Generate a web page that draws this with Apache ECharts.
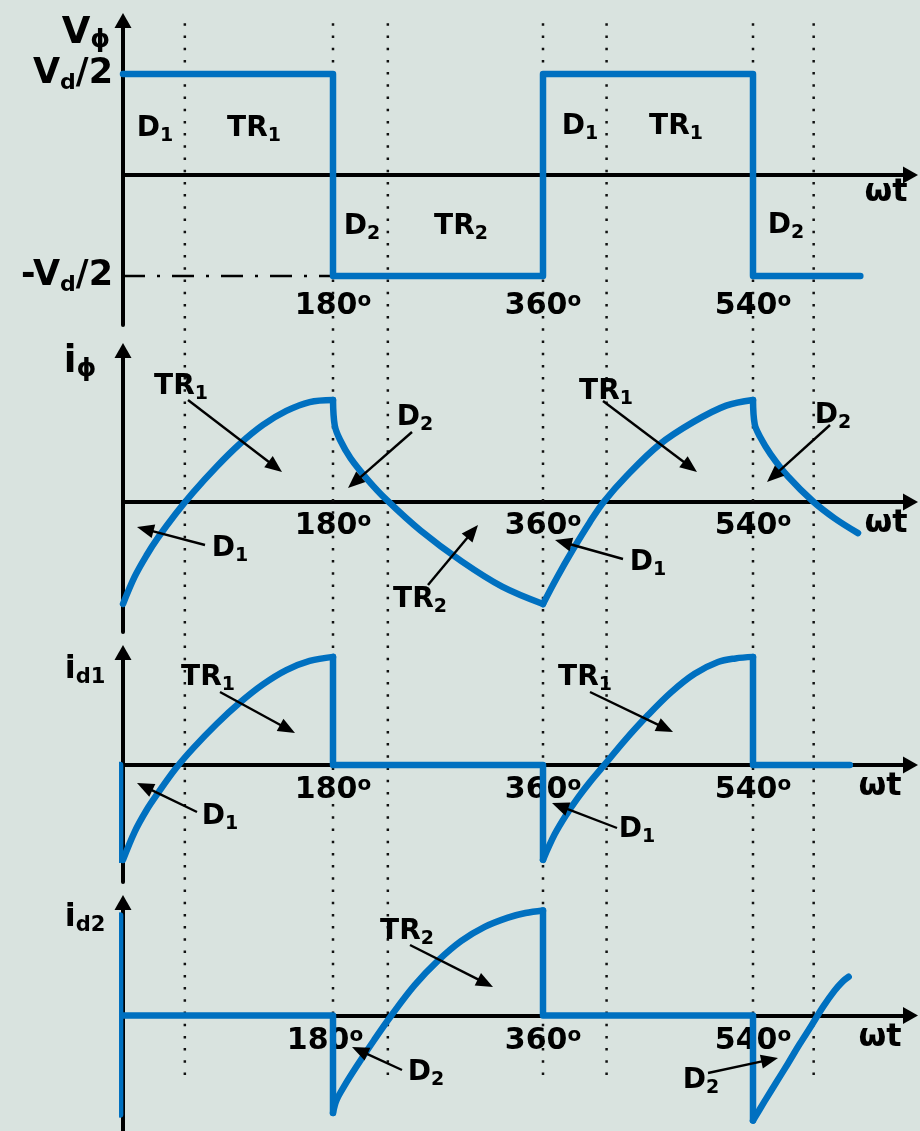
<!DOCTYPE html>
<html>
<head>
<meta charset="utf-8">
<script src="https://cdn.jsdelivr.net/npm/echarts@6/dist/echarts.min.js"></script>
<style>
  html, body { margin: 0; padding: 0; background: #d9e3df; }
  #chart { width: 920px; height: 1131px; }
</style>
</head>
<body>
<div id="chart"></div>
<script>
// ---- angles (degrees of ωt) ----
const tickAngles = [180, 360, 540];
const tickLabels = ['180', '360', '540'];
const dividerAngles = [53, 180, 227, 360, 414.5, 540, 592];

// ---- phase voltage, in units of Vd/2 ----
const vPhase = [[0, 1], [180, 1], [180, -1], [360, -1], [360, 1], [540, 1], [540, -1], [632, -1]];
const vNegRef = [[0, -1], [180, -1]];

// ---- phase current ----
const iPhaseRise1 = [[0, -1.0], [10, -0.732], [20, -0.527], [30, -0.35], [45, -0.117], [60, 0.093], [80, 0.344], [100, 0.569], [120, 0.756], [140, 0.893], [160, 0.98], [180, 1.0]];
const iPhaseFall1 = [[180, 1.0], [181.5, 0.75], [186, 0.61], [195, 0.43], [210, 0.215], [226, 0.02], [255, -0.28], [290, -0.58], [325, -0.83], [360, -1.0]];
const iPhaseRise2 = [[360, -1.0], [372, -0.74], [386, -0.46], [400, -0.20], [412, 0], [432, 0.26], [460, 0.565], [489, 0.785], [517, 0.945], [540, 1.0]];
const iPhaseFall2 = [[540, 1.0], [541.5, 0.76], [546, 0.64], [555, 0.47], [570, 0.25], [592, 0], [610, -0.16], [630, -0.305]];

// ---- upper device current ----
const id1Lead = [[-2.5, 0], [-2.5, -0.93]];
const id1Rise1 = [[0, -0.93], [10, -0.655], [20, -0.446], [30, -0.275], [45, -0.037], [60, 0.163], [80, 0.40], [100, 0.61], [120, 0.79], [140, 0.93], [160, 1.02], [180, 1.06]];
const id1Off1 = [[180, 1.06], [180, 0], [360, 0], [360, -0.93]];
const id1Rise2 = [[360, -0.93], [370, -0.68], [380, -0.487], [390, -0.32], [400, -0.17], [415, 0.034], [430, 0.24], [450, 0.49], [470, 0.715], [490, 0.895], [510, 1.01], [525, 1.045], [540, 1.06]];
const id1Off2 = [[540, 1.06], [540, 0], [623, 0]];

// ---- lower device current ----
const id2Lead = [[-2.5, 0.98], [-2.5, -0.97]];
const id2Off1 = [[0, 0], [180, 0], [180, -0.955]];
const id2Rise1 = [[180, -0.955], [183, -0.83], [190, -0.685], [200, -0.503], [215, -0.245], [230, 0.0], [250, 0.297], [270, 0.537], [290, 0.731], [310, 0.869], [330, 0.96], [345, 1.005], [360, 1.03]];
const id2Off2 = [[360, 1.03], [360, 0], [540, 0], [540, -1.03]];
const id2Rise2 = [[540, -1.03], [550, -0.84], [560, -0.655], [570, -0.47], [580, -0.28], [590, -0.10], [600, 0.085], [610, 0.245], [617, 0.335], [622, 0.38]];

// ---- layout ----
const BLUE = '#0070c0';
const FONT = 'DejaVu Sans';
const LEFT = 123;
const X_MAX = 675;
const PX_PER_DEG = 1.16667;
const GRID_W = X_MAX * PX_PER_DEG;
const ARROW = [17, 15];

// labelMargin is measured from the bottom edge of each grid
const panels = [
  { top: 13, bottom: 325, zero: 175, unit: 101, labelMargin: -34 },
  { top: 343, bottom: 632, zero: 502, unit: 102, labelMargin: -121 },
  { top: 645, bottom: 882, zero: 765, unit: 102, labelMargin: -107 },
  { top: 895, bottom: 1131, zero: 1015.5, unit: 102, labelMargin: -105 }
];

const grids = [], xAxes = [], yAxes = [], series = [];

panels.forEach((p, k) => {
  const gTop = p.top + ARROW[1] / 2;
  grids.push({ left: LEFT, top: gTop, width: GRID_W, height: p.bottom - gTop, outerBoundsMode: 'none', containLabel: false });
  xAxes.push({
    gridIndex: k, type: 'value', min: 0, max: X_MAX, interval: 180,
    axisLine: { show: true, onZero: true, symbol: ['none', 'triangle'], symbolSize: ARROW, lineStyle: { color: '#000', width: 4 } },
    axisTick: { show: false }, splitLine: { show: false },
    axisLabel: {
      show: true, margin: p.labelMargin, hideOverlap: false,
      formatter: (v) => {
        const i = tickAngles.indexOf(v);
        if (i < 0) return '';
        const pad = (k === 3 && v === 180) ? '{w| }' : '';
        return '{n|' + tickLabels[i] + '}{o|o}' + pad;
      },
      rich: {
        n: { fontFamily: FONT, fontWeight: 'bold', fontSize: 30, lineHeight: 30, color: '#000' },
        o: { fontFamily: FONT, fontWeight: 'bold', fontSize: 20, lineHeight: 14, verticalAlign: 'top', color: '#000' },
        w: { width: 16 }
      }
    }
  });
  yAxes.push({
    gridIndex: k, type: 'value',
    min: -(p.bottom - p.zero) / p.unit, max: (p.zero - gTop) / p.unit,
    axisLine: { show: true, onZero: true, symbol: ['none', 'triangle'], symbolSize: ARROW, lineStyle: { color: '#000', width: 4 } },
    axisTick: { show: false }, splitLine: { show: false }, axisLabel: { show: false }
  });
});

// full-height grid for the dotted angle markers
grids.push({ left: LEFT, top: 18, width: GRID_W, bottom: 56, outerBoundsMode: 'none', containLabel: false });
xAxes.push({ gridIndex: 4, type: 'value', min: 0, max: X_MAX, show: false });
yAxes.push({ gridIndex: 4, type: 'value', min: 0, max: 1, show: false });

dividerAngles.forEach((a) => {
  series.push({
    type: 'line', xAxisIndex: 4, yAxisIndex: 4, data: [[a, 0], [a, 1]],
    symbol: 'none', silent: true, z: 1,
    lineStyle: { color: '#111', width: 2.5, type: [2.5, 9.7] }
  });
});

function trace(data, k, smooth) {
  series.push({
    type: 'line', xAxisIndex: k, yAxisIndex: k, data: data,
    smooth: smooth ? 0.35 : false,
    symbol: 'none', silent: true, clip: false, z: 3,
    lineStyle: { color: BLUE, width: 6.5, cap: 'round', join: 'round' }
  });
}

// dash-dot reference at -Vd/2
series.push({
  type: 'line', xAxisIndex: 0, yAxisIndex: 0, data: vNegRef, symbol: 'none', silent: true, z: 2,
  lineStyle: { color: '#000', width: 2.5, type: [22, 12, 3, 12] }
});

trace(vPhase, 0, false);
trace(iPhaseRise1, 1, true);
trace(iPhaseFall1, 1, true);
trace(iPhaseRise2, 1, true);
trace(iPhaseFall2, 1, true);
trace(id1Lead, 2, false);
trace(id1Rise1, 2, true);
trace(id1Off1, 2, false);
trace(id1Rise2, 2, true);
trace(id1Off2, 2, false);
trace(id2Lead, 3, false);
trace(id2Off1, 3, false);
trace(id2Rise1, 3, true);
trace(id2Off2, 3, false);
trace(id2Rise2, 3, true);

// ---- annotations ----
function tok(size, lh, sub) {
  const t = { fontFamily: FONT, fontWeight: 'bold', fontSize: size, lineHeight: lh, fill: '#000', color: '#000' };
  if (sub) t.verticalAlign = 'bottom';
  return t;
}
const richBase = {
  m: tok(28, 34), s: tok(19, 18, true),
  V: tok(35, 40), d: tok(22, 20, true),
  B: tok(37, 40), p: tok(25, 22, true),
  I: tok(32, 36), q: tok(21, 19, true),
  w: tok(32, 34)
};

const texts = [
  // [x, y, rich text, align]
  [86, 33, '{B|V}{p|ϕ}', 'center'],
  [113, 74, '{V|V}{d|d}{V|/2}', 'right'],
  [113, 276, '{V|-V}{d|d}{V|/2}', 'right'],
  [155, 129, '{m|D}{s|1}', 'center'],
  [254, 129, '{m|TR}{s|1}', 'center'],
  [362, 227, '{m|D}{s|2}', 'center'],
  [461, 227, '{m|TR}{s|2}', 'center'],
  [580, 127, '{m|D}{s|1}', 'center'],
  [676, 127, '{m|TR}{s|1}', 'center'],
  [786, 226, '{m|D}{s|2}', 'center'],
  [886, 193, '{w|ωt}', 'center'],

  [80, 362, '{B|i}{p|ϕ}', 'center'],
  [181, 387, '{m|TR}{s|1}', 'center'],
  [415, 418, '{m|D}{s|2}', 'center'],
  [230, 549, '{m|D}{s|1}', 'center'],
  [420, 600, '{m|TR}{s|2}', 'center'],
  [606, 392, '{m|TR}{s|1}', 'center'],
  [833, 416, '{m|D}{s|2}', 'center'],
  [648, 563, '{m|D}{s|1}', 'center'],
  [886, 524, '{w|ωt}', 'center'],

  [85, 670, '{I|i}{q|d1}', 'center'],
  [208, 678, '{m|TR}{s|1}', 'center'],
  [220, 817, '{m|D}{s|1}', 'center'],
  [585, 678, '{m|TR}{s|1}', 'center'],
  [637, 830, '{m|D}{s|1}', 'center'],
  [880, 787, '{w|ωt}', 'center'],

  [85, 918, '{I|i}{q|d2}', 'center'],
  [407, 932, '{m|TR}{s|2}', 'center'],
  [426, 1073, '{m|D}{s|2}', 'center'],
  [701, 1081, '{m|D}{s|2}', 'center'],
  [880, 1038, '{w|ωt}', 'center']
];

const pointers = [
  [188, 400, 282, 472], [412, 432, 348, 488], [205, 545, 137, 527], [428, 585, 478, 525],
  [603, 401, 697, 472], [830, 425, 767, 482], [623, 559, 555, 540],
  [220, 692, 295, 733], [197, 812, 137, 783], [590, 692, 673, 732], [617, 828, 552, 803],
  [410, 945, 493, 987], [402, 1070, 352, 1047], [708, 1073, 778, 1058]
];

const graphic = [];
texts.forEach(([x, y, t, align]) => {
  graphic.push({
    type: 'text', x: x, y: y, z: 10, silent: true,
    style: { text: t, rich: richBase, align: align, verticalAlign: 'middle', fill: '#000' }
  });
});
pointers.forEach(([x1, y1, x2, y2]) => {
  const dx = x2 - x1, dy = y2 - y1, L = Math.hypot(dx, dy);
  const ux = dx / L, uy = dy / L, hl = 17, hw = 7;
  const bx = x2 - ux * hl, by = y2 - uy * hl;
  graphic.push({
    type: 'line', z: 10, silent: true,
    shape: { x1: x1, y1: y1, x2: bx + ux * 3, y2: by + uy * 3 },
    style: { stroke: '#000', lineWidth: 2.4 }
  });
  graphic.push({
    type: 'polygon', z: 10, silent: true,
    shape: { points: [[x2, y2], [bx - uy * hw, by + ux * hw], [bx + uy * hw, by - ux * hw]] },
    style: { fill: '#000' }
  });
});

const chart = echarts.init(document.getElementById('chart'), null, { renderer: 'canvas' });
chart.setOption({
  backgroundColor: '#d9e3df',
  animation: false,
  grid: grids,
  xAxis: xAxes,
  yAxis: yAxes,
  series: series,
  graphic: graphic
});
</script>
</body>
</html>
